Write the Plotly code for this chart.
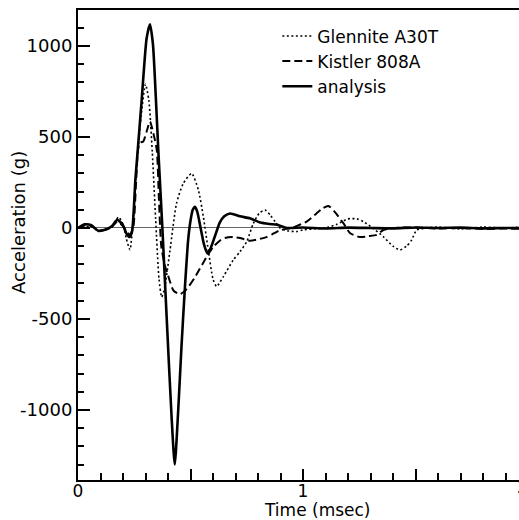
import plotly.graph_objects as go

# Glennite A30T (dotted)
t_gl = [0, 0.03, 0.06, 0.09, 0.12, 0.15, 0.18, 0.2, 0.215, 0.231,
        0.245, 0.26, 0.28, 0.3, 0.315, 0.33, 0.345, 0.36, 0.372, 0.385,
        0.409, 0.438, 0.468, 0.505, 0.535, 0.557, 0.579, 0.6, 0.616, 0.646,
        0.69, 0.72, 0.75, 0.779, 0.805, 0.831, 0.855, 0.876, 0.898, 0.93,
        0.97, 1.0, 1.05, 1.1, 1.15, 1.2, 1.24, 1.268, 1.31, 1.357,
        1.4, 1.431, 1.46, 1.483, 1.505, 1.55, 1.6, 1.7, 1.8, 1.9, 1.97]
g_gl = [0, 10, 5, -15, -10, 5, 60, 20, -60, -120,
        50, 330, 610, 790, 700, 420, 50, -280, -380, -330,
        -121, 136, 245, 300, 209, 62, -121, -280, -322, -267,
        -176, -130, -75, 25, 80, 99, 70, 35, 0, -15,
        -20, -10, -5, 0, 20, 50, 50, 35, 0, -48,
        -100, -121, -100, -66, -11, 0, 5, -5, 5, 0, 5]

# Kistler 808A (dashed)
t_ki = [0, 0.03, 0.06, 0.09, 0.12, 0.15, 0.175, 0.2, 0.215, 0.23,
        0.245, 0.258, 0.268, 0.278, 0.29, 0.305, 0.32, 0.335, 0.35, 0.36,
        0.37, 0.385, 0.4, 0.425, 0.453, 0.48, 0.52, 0.572, 0.6, 0.63,
        0.653, 0.69, 0.72, 0.764, 0.8, 0.838, 0.87, 0.9, 0.95, 0.98,
        1.016, 1.06, 1.09, 1.113, 1.14, 1.18, 1.21, 1.253, 1.29, 1.327,
        1.357, 1.4, 1.5, 1.6, 1.7, 1.8, 1.9, 1.97]
g_ki = [0, 15, 10, -15, -10, 5, 35, 10, -20, -35,
        0, 250, 440, 470, 475, 530, 585, 520, 430, 150,
        -100, -200, -260, -345, -363, -340, -270, -158, -105, -70,
        -55, -50, -55, -70, -62, -50, -30, -11, 0, 15,
        35, 80, 110, 121, 90, 25, -29, -50, -45, -38,
        -11, 0, 3, -3, 0, -5, -3, -5]

# analysis (solid)
t_an = [0, 0.03, 0.06, 0.09, 0.12, 0.15, 0.175, 0.2, 0.215, 0.228,
        0.24, 0.255, 0.268, 0.283, 0.305, 0.32, 0.333, 0.345, 0.358, 0.375,
        0.394, 0.416, 0.43, 0.445, 0.46, 0.475, 0.49, 0.5, 0.51, 0.52,
        0.53, 0.545, 0.56, 0.575, 0.59, 0.61, 0.63, 0.65, 0.676, 0.72,
        0.764, 0.81, 0.85, 0.885, 0.93, 1.0, 1.1, 1.2, 1.3, 1.4,
        1.5, 1.6, 1.7, 1.8, 1.9, 1.97]
g_an = [0, 20, 15, -15, -10, 10, 45, 15, -30, -50,
        -20, 265, 467, 703, 1043, 1120, 1010, 740, 400, 0,
        -490, -1040, -1300, -1010, -650, -330, -60, 40, 100, 117,
        90, 0, -90, -140, -110, -40, 30, 65, 80, 64,
        53, 30, 22, 18, 0, 3, -3, 2, 0, -2,
        3, 0, 2, -2, 0, 0]

x_tickvals = [0, 0.5, 1, 1.5]
x_ticktext = ["0", "", "1", ""]
y_tickvals = [-1000, -500, 0, 500, 1000]
y_ticktext = ["-1000", "-500", "0", "500", "1000"]

FONT = "DejaVu Sans"

fig = go.Figure()
fig.add_trace(go.Scatter(x=t_gl, y=g_gl, mode="lines", name="Glennite A30T",
                         line=dict(color="black", width=1.6, dash="2px,2.5px",
                                   shape="spline", smoothing=0.6)))
fig.add_trace(go.Scatter(x=t_ki, y=g_ki, mode="lines", name="Kistler 808A",
                         line=dict(color="black", width=2, dash="8px,4px",
                                   shape="spline", smoothing=0.6)))
fig.add_trace(go.Scatter(x=t_an, y=g_an, mode="lines", name="analysis",
                         line=dict(color="black", width=2.6,
                                   shape="spline", smoothing=0.6)))

fig.update_layout(
    width=519, height=520,
    margin=dict(l=78, r=0, t=10, b=40),
    paper_bgcolor="white", plot_bgcolor="white",
    font=dict(family=FONT, size=18, color="black"),
    showlegend=True,
    legend=dict(x=0.452, y=0.982, xanchor="left", yanchor="top",
                bgcolor="rgba(0,0,0,0)", font=dict(size=17, family=FONT),
                tracegroupgap=0, itemwidth=30),
    xaxis=dict(range=[0, 1.96], showgrid=False, zeroline=False,
               showline=True, linecolor="black", linewidth=2, mirror=True,
               ticks="inside", ticklen=11, tickwidth=1.5, tickcolor="black",
               tickvals=x_tickvals, ticktext=x_ticktext,
               ticklabelstandoff=-5,
               tickfont=dict(size=17, family=FONT),
               minor=dict(ticks="inside", ticklen=7, tickwidth=1.5,
                          tickcolor="black", dtick=0.1, showgrid=False)),
    yaxis=dict(range=[-1385, 1198], showgrid=False,
               zeroline=True, zerolinecolor="#666666", zerolinewidth=1,
               showline=True, linecolor="black", linewidth=2,
               ticks="inside", ticklen=12, tickwidth=1.5, tickcolor="black",
               tickvals=y_tickvals, ticktext=y_ticktext,
               tickfont=dict(size=18, family=FONT),
               minor=dict(ticks="inside", ticklen=6, tickwidth=1.5,
                          tickcolor="black", dtick=100, showgrid=False)),
)

fig.add_annotation(text="Acceleration (g)", xref="paper", yref="paper",
                   x=-0.134, y=0.549, textangle=-90, showarrow=False,
                   xanchor="center", yanchor="middle",
                   font=dict(size=18, family=FONT))
fig.add_annotation(text="Time (msec)", xref="paper", yref="paper",
                   x=0.542, y=-0.064, showarrow=False,
                   xanchor="center", yanchor="middle",
                   font=dict(size=17, family=FONT))
fig.add_annotation(text="2", xref="paper", yref="paper",
                   x=1, y=0, yshift=-7, xshift=-4, showarrow=False,
                   xanchor="left", yanchor="middle",
                   font=dict(size=17, family=FONT))

fig.write_html("out.html", config={"displayModeBar": False},
               post_script="document.body.style.margin='0';")
